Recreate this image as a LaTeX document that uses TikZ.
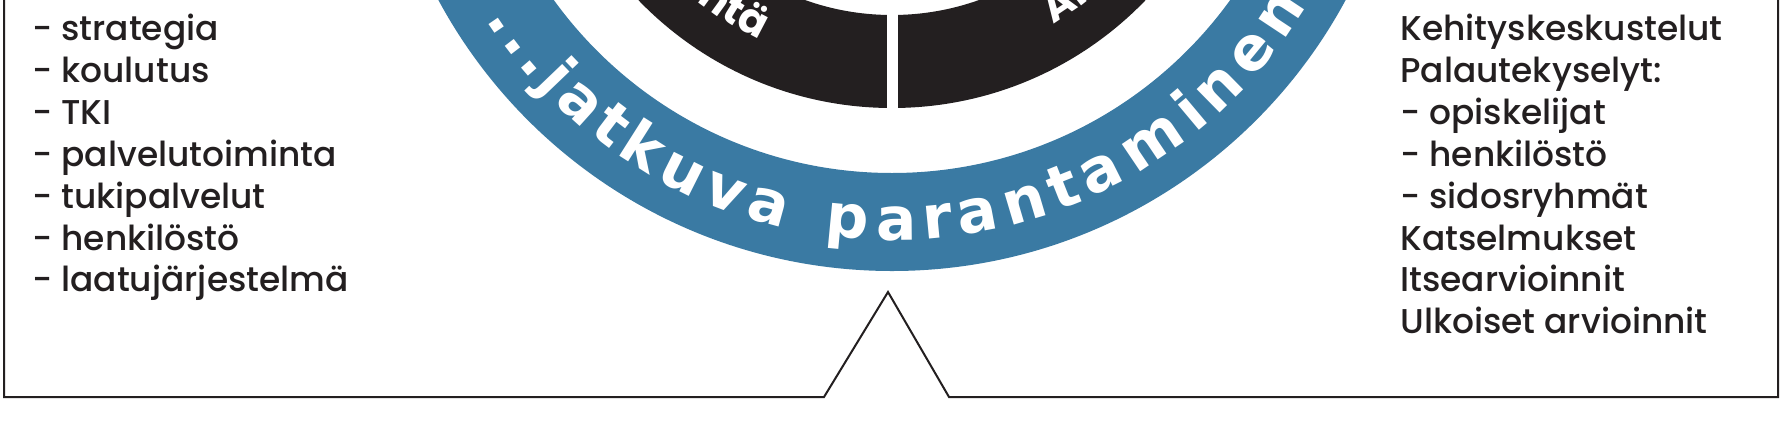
\documentclass[tikz,border=0pt]{standalone}
\usepackage{fontspec}
\setmainfont{Poppins}[UprightFont=* Medium]
\newfontfamily\ringfont{DejaVu Sans}
\newfontfamily\segfont{Poppins}
\usetikzlibrary{decorations.text}
\definecolor{ink}{HTML}{231F20}
\definecolor{ringblue}{HTML}{3A7AA3}
\tikzset{
	item/.style={anchor=base west,inner sep=0pt,text=ink,font=\fontsize{17.2}{20}\selectfont},
	frame/.style={draw=ink,line width=1pt,line join=miter},
	ringtext/.style={decorate,decoration={text effects along path,text={#1},
		text effects/.cd,text along path,fit text to path,
		every character/.style={text=white,font=\ringfont\bfseries\fontsize{30}{32}\selectfont}}},
	segtext/.style={decorate,decoration={text along path,text color=white,text={|\segfont\bfseries\fontsize{21}{22}\selectfont|#1}}}
}
\begin{document}
\begin{tikzpicture}[x=0.5pt,y=0.5pt]
	\path[fill=white,use as bounding box] (0,0) rectangle (1781,-429);
	\coordinate (c) at (892,244);
	% rings
	\fill[ringblue,even odd rule] (c) circle[radius=515] (c) circle[radius=417];
	\fill[ink,even odd rule] (c) circle[radius=352] (c) circle[radius=259];
	\draw[white,line width=5.5pt] ([shift={(270:250)}]c) -- ([shift={(270:360)}]c);
	\path[ringtext={...jatkuva}] ([shift={(213:484)}]c) arc[start angle=213,end angle=257,radius=484];
	\path[ringtext={parantaminen}] ([shift={(262:484)}]c) arc[start angle=262,end angle=329,radius=484];
	\path[segtext={ntä},decoration={text align=right}] ([shift={(215:313)}]c) arc[start angle=215,end angle=245,radius=313];
	\path[segtext={Ar},decoration={text align=left}] ([shift={(301:313)}]c) arc[start angle=301,end angle=330,radius=313];
	% frame with notch
	\coordinate (nl) at (824,-397);
	\coordinate (tip) at (888,-292);
	\coordinate (nr) at (949,-397);
	\draw[frame] (4,20) -- (4,-397) -- (nl) -- (tip) -- (nr) -- (1778,-397) -- (1778,20);
	% lists
	\foreach \t [count=\i] in {- strategia,- koulutus,- TKI,- palvelutoiminta,- tukipalvelut,- henkilöstö,- laatujärjestelmä}
		\node[item] (l\i) at (32,{-40.5-41.9*(\i-1)}) {\t};
	\foreach \t [count=\i] in {Kehityskeskustelut,Palautekyselyt:,- opiskelijat,- henkilöstö,- sidosryhmät,Katselmukset,Itsearvioinnit,Ulkoiset arvioinnit}
		\node[item] (r\i) at (1400,{-40.5-41.9*(\i-1)}) {\t};
\end{tikzpicture}
\end{document}
